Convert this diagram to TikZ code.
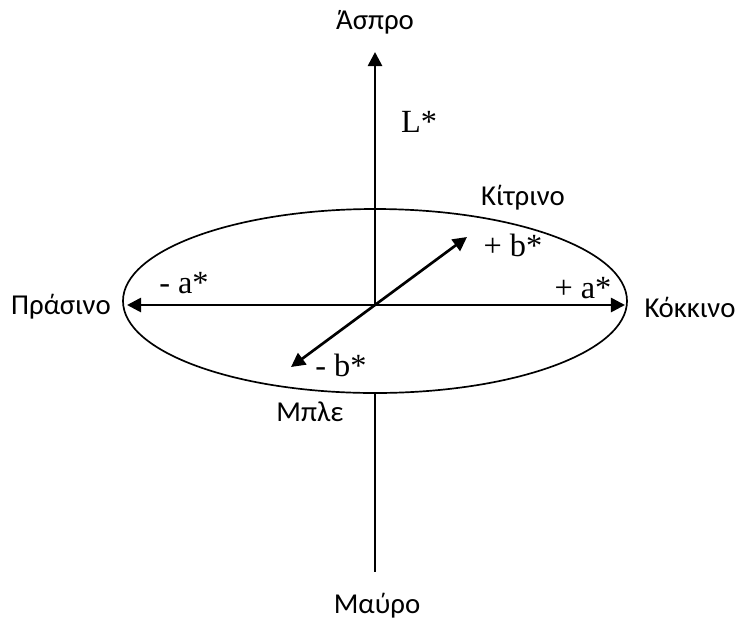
\documentclass[tikz,border=0pt]{standalone}
\usepackage{fontspec}
\setmainfont{Liberation Serif}
\newfontfamily\greekfont{Carlito}
\usetikzlibrary{arrows.meta}

\begin{document}
\begin{tikzpicture}[every node/.style={font=\fontsize{23}{26}\selectfont},
  axisline/.style={line width=1.9pt,-{Triangle[length=10pt,width=10pt]}},
  colourname/.style={font=\greekfont\fontsize{20.5}{24}\selectfont}]
\useasboundingbox (-9.375,-8.125) rectangle (9.225,7.625);
% colour space ellipse
\draw[line width=1.2pt] (0,0.1) ellipse (6.3 and 2.3);
\coordinate (O) at (0,0);
\coordinate (bot) at (0,-2.2);
\coordinate (white) at (0,6.325);
\coordinate (green) at (-6.2,0);
\coordinate (red) at (6.25,0);
\coordinate (yellow) at (2.3,1.7);
\coordinate (blue) at (-2.1,-1.55);
\coordinate (black) at (0,-6.675);
% L* axis
\draw[axisline] (O) -- (white);
\draw[line width=1.2pt] (bot) -- (black);
% a* axis
\draw[axisline,{Triangle[length=10pt,width=10pt]}-{Triangle[length=10pt,width=10pt]}] (green) -- (red);
% b* axis
\draw[axisline,{Triangle[length=10pt,width=10pt]}-{Triangle[length=10pt,width=10pt]}] (blue) -- (yellow);
% axis labels
\node (Lstar) at (1.1,4.575) {L*};
\node (aminus) at (-4.775,0.55) {- a*};
\node (aplus) at (5.2,0.425) {+ a*};
\node (bplus) at (3.45,1.5) {+ b*};
\node (bminus) at (-0.85,-1.5) {- b*};
% colour names
\node[colourname] (aspro) at (0,7.075) {Άσπρο};
\node[colourname] (kitrino) at (3.7,2.675) {Κίτρινο};
\node[colourname] (prasino) at (-7.85,-0.05) {Πράσινο};
\node[colourname] (kokkino) at (7.875,-0.05) {Κόκκινο};
\node[colourname] (mple) at (-1.625,-2.675) {Μπλε};
\node[colourname] (mavro) at (0.05,-7.525) {Μαύρο};
\end{tikzpicture}
\end{document}
